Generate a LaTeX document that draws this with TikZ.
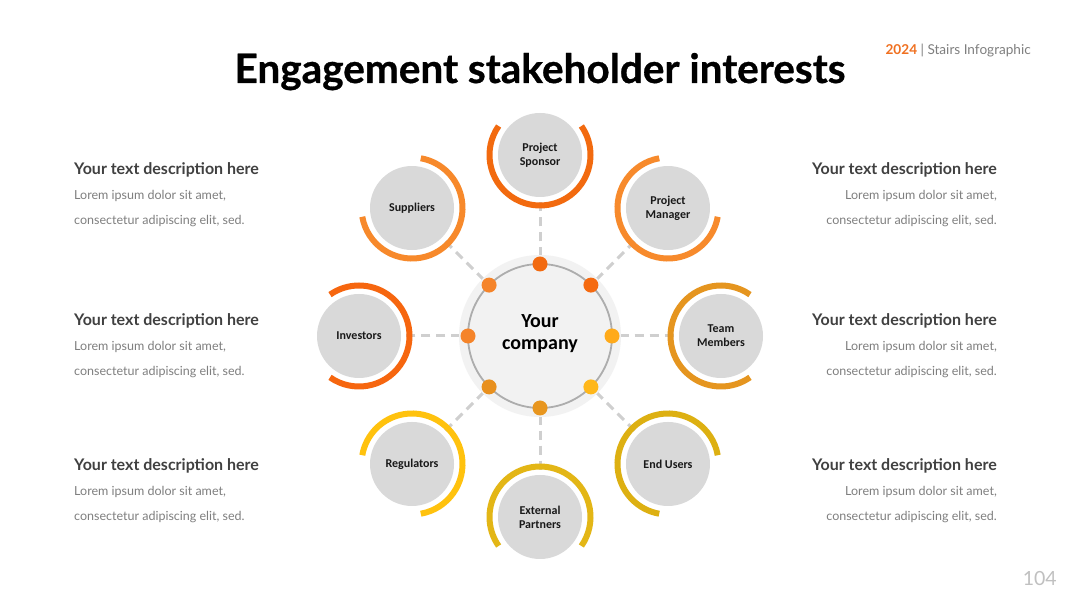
\documentclass[tikz,border=0pt]{standalone}
\usepackage{fontspec}
\usetikzlibrary{calc}
\setmainfont{Lato}
\newfontfamily\carl{Carlito}
\newfontfamily\titlefont[FakeBold=0.7]{Lato}
\pgfdeclarelayer{bg}
\pgfsetlayers{bg,main}
\definecolor{cSpon}{HTML}{F26A0F}
\definecolor{cMan}{HTML}{F78A2C}
\definecolor{cTeam}{HTML}{E5951F}
\definecolor{cEnd}{HTML}{DDB012}
\definecolor{cExt}{HTML}{E3B616}
\definecolor{cReg}{HTML}{FFC20E}
\definecolor{cInv}{HTML}{F6660F}
\definecolor{cSup}{HTML}{F7892B}
\definecolor{dTop}{HTML}{F26A10}
\definecolor{dUR}{HTML}{F56A10}
\definecolor{dR}{HTML}{FFAA1A}
\definecolor{dLR}{HTML}{FFB71B}
\definecolor{dB}{HTML}{E8961F}
\definecolor{dLL}{HTML}{E8901E}
\definecolor{dL}{HTML}{F5842A}
\definecolor{dUL}{HTML}{F5842A}
\definecolor{satfill}{HTML}{D9D9D9}
\definecolor{hubfill}{HTML}{F2F2F2}
\definecolor{ringcol}{HTML}{ADADAD}
\definecolor{dashcol}{HTML}{CFCFCF}
\definecolor{headcol}{HTML}{404040}
\definecolor{loremcol}{HTML}{7F7F7F}
\definecolor{yearcol}{HTML}{F07020}
\definecolor{pagecol}{HTML}{C0C0C0}
\tikzset{
  satnode/.style={circle, fill=satfill, minimum size=84pt, inner sep=0pt, align=center,
    font=\carl\bfseries\fontsize{12}{14}\selectfont, text=black!90},
  dotnode/.style={circle, minimum size=15pt, inner sep=0pt},
  spoke/.style={draw=dashcol, line width=3pt, dash pattern=on 9pt off 6pt},
  headtxt/.style={font=\bfseries\fontsize{16}{19}\selectfont, text=headcol, inner sep=0pt},
  loremtxt/.style={font=\fontsize{12.5}{15}\selectfont, text=loremcol, inner sep=0pt},
}
\begin{document}
\begin{tikzpicture}[x=1pt,y=1pt]
\useasboundingbox (0,0) rectangle (1080,608);
\begin{pgfonlayer}{bg}
\fill[white] (0,0) rectangle (1080,608);
\end{pgfonlayer}
% title
\node[anchor=base, inner sep=0pt, font=\titlefont\bfseries\fontsize{40.5}{46}\selectfont] (title) at (540,525) {Engagement stakeholder interests};
\node[anchor=base east, inner sep=0pt, font=\fontsize{13.6}{16}\selectfont, text=loremcol] (tag) at (1031,553) {\textcolor{yearcol}{\bfseries 2024} | Stairs Infographic};
\node[anchor=base east, inner sep=0pt, font=\fontsize{19.5}{22}\selectfont, text=pagecol] (page) at (1057,22) {104};
% hub
\coordinate (C) at (540,272);
\node[circle, fill=hubfill, minimum size=162pt, inner sep=0pt] (hub) at (C) {};
\node[circle, draw=ringcol, line width=1.8pt, fill=hubfill, minimum size=144pt, inner sep=0pt] (ring) at (C) {};
\node[align=center, font=\carl\bfseries\fontsize{20}{22}\selectfont] (company) at (540,274) {Your\\company};
% satellites
\foreach \a/\nm/\lab/\ac/\dc in {
  90/spon/{Project\\Sponsor}/cSpon/dTop,
  45/man/{Project\\Manager}/cMan/dUR,
  0/team/{Team\\Members}/cTeam/dR,
  -45/endu/{End Users}/cEnd/dLR,
  -90/ext/{External\\Partners}/cExt/dB,
  -135/reg/{Regulators}/cReg/dLL,
  180/inv/{Investors}/cInv/dL,
  135/sup/{Suppliers}/cSup/dUL}{
  \node[dotnode, fill=\dc] (d-\nm) at ($(C)+(\a:72pt)$) {};
  \node[satnode] (s-\nm) at ($(C)+(\a:181pt)$) {\lab};
  \draw[\ac, line width=6pt] (s-\nm.center) ++(\a+55:50.5pt) arc[start angle=\a+55, end angle=\a+305, radius=50.5pt];
  \begin{pgfonlayer}{bg}
    \draw[spoke] (d-\nm) -- (s-\nm);
  \end{pgfonlayer}
}
% descriptions
\foreach \y/\k in {433/a,282/b,137/c}{
  \node[headtxt, anchor=base west] (lh-\k) at (74,\y) {Your text description here};
  \node[loremtxt, anchor=base west] (l1-\k) at (74,\y-25) {Lorem ipsum dolor sit amet,};
  \node[loremtxt, anchor=base west] (l2-\k) at (74,\y-50) {consectetur adipiscing elit, sed.};
  \node[headtxt, anchor=base east] (rh-\k) at (997,\y) {Your text description here};
  \node[loremtxt, anchor=base east] (r1-\k) at (997,\y-25) {Lorem ipsum dolor sit amet,};
  \node[loremtxt, anchor=base east] (r2-\k) at (997,\y-50) {consectetur adipiscing elit, sed.};
}
\end{tikzpicture}
\end{document}
